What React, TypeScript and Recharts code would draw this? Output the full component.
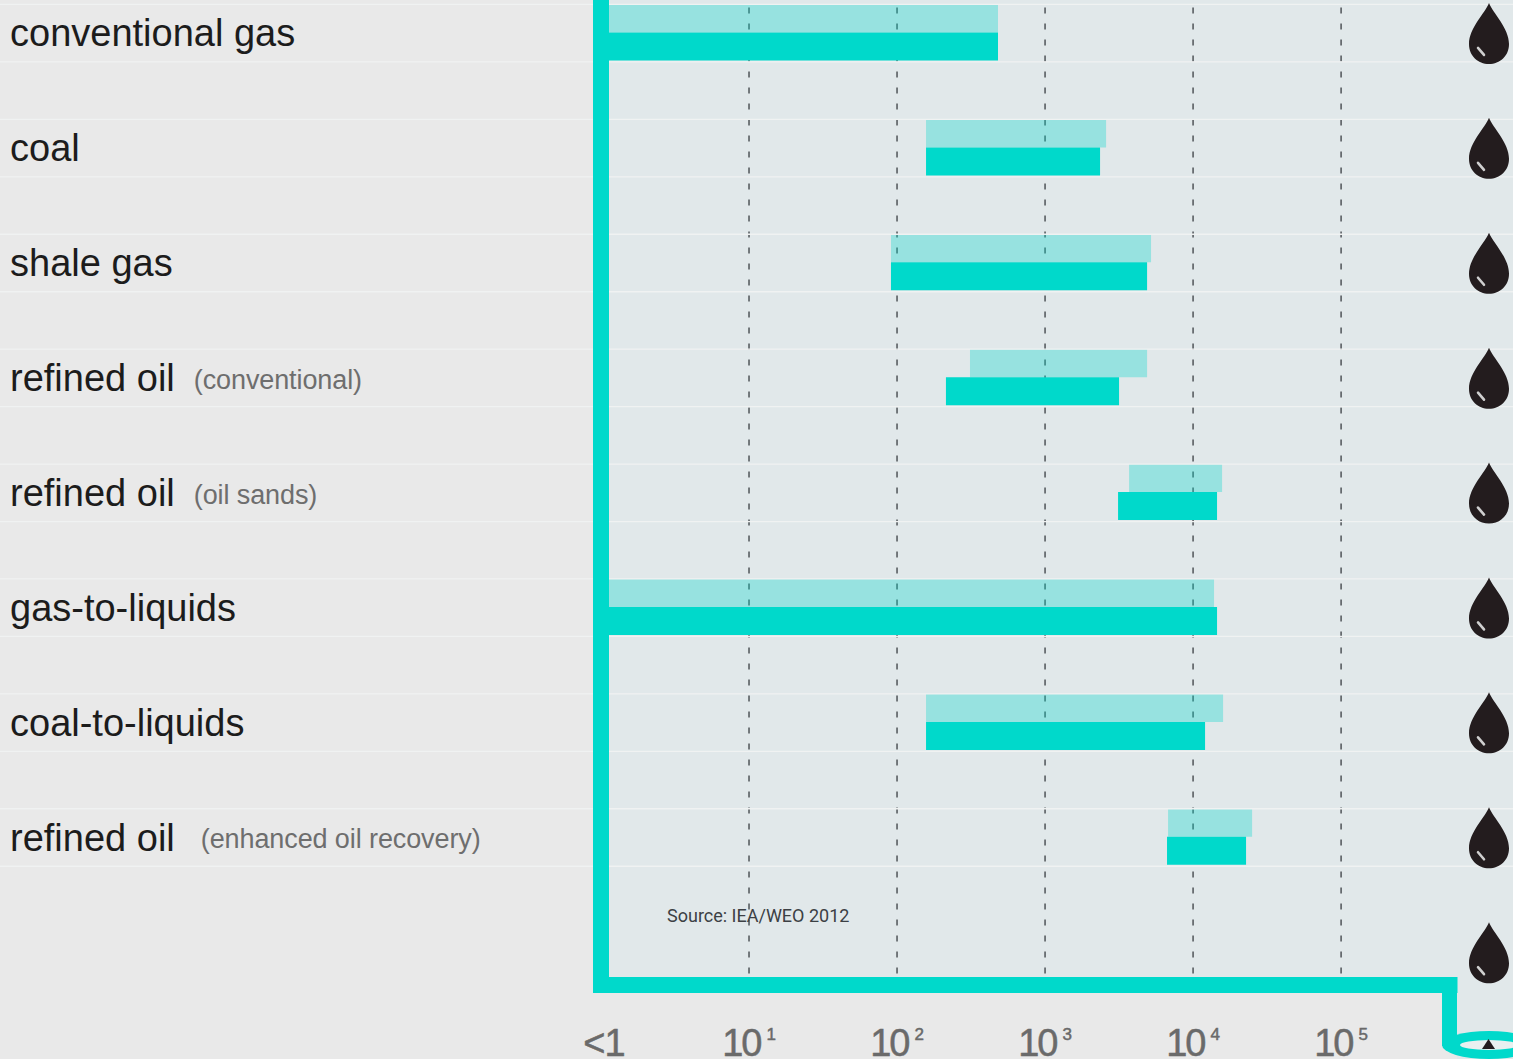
import { BarChart, Bar, XAxis, YAxis, CartesianGrid } from "recharts";

const TEAL = "#00d9cb";
const PAGE_BG = "#e9e9e9";
const PANEL_BG = "#e1e8ea";

const categories = [
  "conventional gas",
  "coal",
  "shale gas",
  "refined oil (conventional)",
  "refined oil (oil sands)",
  "gas-to-liquids",
  "coal-to-liquids",
  "refined oil (enhanced oil recovery)",
  " ",
];
const lightRanges = [
  [1, 481],
  [157, 2584],
  [91, 5200],
  [311, 4890],
  [3696, 15700],
  [1, 13860],
  [157, 15950],
  [6776, 25050],
  null,
];
const darkRanges = [
  [1, 481],
  [157, 2353],
  [91, 4890],
  [214, 3162],
  [3113, 14520],
  [1, 14520],
  [157, 12050],
  [6668, 22800],
  null,
];
const xTicks = [1, 10, 100, 1000, 10000, 100000];
const xTickLabels = ["<1", "10", "10", "10", "10", "10"];
const xTickPowers = ["", "1", "2", "3", "4", "5"];

const data = categories.map((name, i) => ({ name, light: lightRanges[i], dark: darkRanges[i] }));

function Drop({ x, y }: { x: number; y: number }) {
  return (
    <g transform={`translate(${x},${y})`}>
      <path d="M0,-31 C4,-21 20,-6 20,10 C20,22 11,30 0,30 C-11,30 -20,22 -20,10 C-20,-6 -4,-21 0,-31 Z" fill="#231c1e" />
      <path d="M-11,14 L-5,21" stroke="#cfcfcf" strokeWidth={2.6} strokeLinecap="round" />
    </g>
  );
}

function RowLine({ y }: { y: number }) {
  return (
    <g stroke="#f0f2f2" strokeWidth={1.3}>
      <line x1={0} x2={593} y1={y} y2={y} />
      <line x1={609} x2={1513} y1={y} y2={y} />
    </g>
  );
}

function RowTick({ y, payload }: any) {
  const value: string = payload.value;
  const split = value.indexOf(" (");
  const main = split > 0 ? value.slice(0, split) : value;
  const note = split > 0 ? value.slice(split + 1) : "";
  const hasBand = value.trim() !== "";
  return (
    <g>
      {hasBand && <RowLine y={y - 28.5} />}
      {hasBand && <RowLine y={y + 29} />}
      <text x={10} y={y + 13.5} fontFamily="Liberation Sans" fontSize={38} fill="#1c1c1c">
        {main}
        {note && (
          <tspan dx={note.startsWith("(enhanced") ? 26 : 19} dy={-2.5} fontSize={27} letterSpacing={-0.1} fill="#6e6e6e">
            {note}
          </tspan>
        )}
      </text>
      <Drop x={1489} y={y + 1} />
    </g>
  );
}

function PowerTick({ x, index }: any) {
  const power = xTickPowers[index];
  return (
    <text
      x={x + (power ? 0 : 3)}
      y={1056 + 40}
      textAnchor="middle"
      fontFamily="Liberation Sans"
      fontSize={38}
      letterSpacing={power ? -2 : -1}
      fill="#6a6a6a"
      stroke="#6a6a6a"
      strokeWidth={0.5}
    >
      {xTickLabels[index]}
      {power && (
        <tspan dx={6} dy={-16} fontSize={17} letterSpacing={0}>
          {power}
        </tspan>
      )}
    </text>
  );
}

export default function App() {
  return (
    <div style={{ position: "absolute", left: 0, top: 0, width: 1513, height: 1059, overflow: "hidden", background: PAGE_BG }}>
      <div style={{ position: "absolute", left: 601, top: 0, width: 912, height: 985, background: PANEL_BG }} />
      <div style={{ position: "absolute", left: 1457, top: 985, width: 56, height: 74, background: PANEL_BG }} />
      <div style={{ position: "absolute", left: 0, top: -40 }}>
        <BarChart
          width={1513}
          height={1100}
          data={data}
          layout="vertical"
          barSize={28}
          barGap={0}
          margin={{ top: 15.5, right: 63.5, bottom: 0, left: 0 }}
        >
          <CartesianGrid horizontal={false} syncWithTicks stroke="#4f5458" strokeWidth={1.5} strokeDasharray="6 10" />
          <XAxis
            type="number"
            scale="log"
            domain={[1, 540000]}
            ticks={xTicks}
            interval={0}
            height={75}
            axisLine={{ stroke: TEAL, strokeWidth: 16, strokeLinecap: "square" }}
            tickLine={false}
            tick={<PowerTick />}
          />
          <YAxis
            type="category"
            dataKey="name"
            width={601}
            interval={0}
            padding={{ top: 0, bottom: -24.6 }}
            axisLine={{ stroke: TEAL, strokeWidth: 16 }}
            tickLine={false}
            tick={<RowTick />}
          />
          <Bar dataKey="light" fill={TEAL} fillOpacity={0.33} isAnimationActive={false} />
          <Bar dataKey="dark" fill={TEAL} isAnimationActive={false} />
        </BarChart>
      </div>
      <svg width={1513} height={1059} style={{ position: "absolute", left: 0, top: 0 }}>
        <line x1={1449.5} x2={1449.5} y1={985} y2={1046} stroke={TEAL} strokeWidth={15} />
        <ellipse cx={1489} cy={1045} rx={47} ry={14} fill={TEAL} />
        <ellipse cx={1489} cy={1045} rx={29} ry={5} fill="#e9f0f0" />
        <path d="M1488.5,1039 L1495,1049 L1482,1049 Z" fill="#231c1e" />
        <text x={667} y={922} fontFamily="Roboto" fontSize={18} fill="#3c4044">
          Source: IEA/WEO 2012
        </text>
      </svg>
    </div>
  );
}
